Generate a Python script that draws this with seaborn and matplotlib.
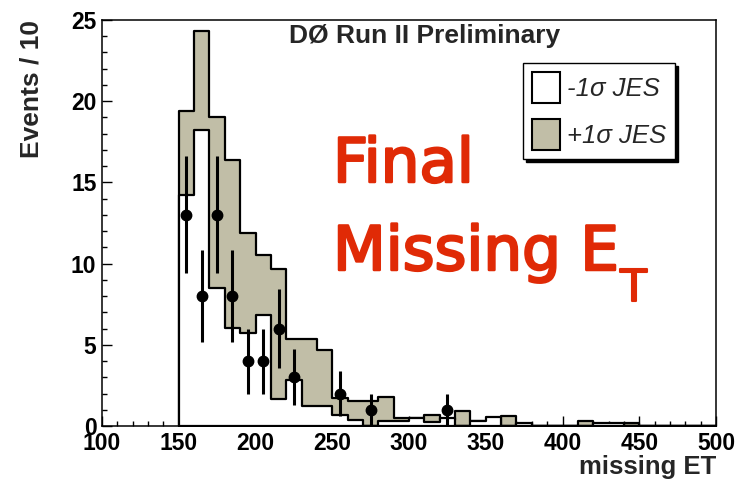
import numpy as np
import pandas as pd
import matplotlib
matplotlib.use("Agg")
import matplotlib.pyplot as plt
import matplotlib.patheffects as pe
from matplotlib.patches import Patch
from matplotlib.ticker import MultipleLocator
import seaborn as sns

# Missing ET spectrum, 10 GeV bins from 150 to 500
bin_edges = list(range(150, 510, 10))
jes_plus = [19.4, 24.3, 19.0, 16.4, 11.9, 10.5, 9.65, 5.35, 5.35, 4.7,
            1.7, 1.56, 1.56, 1.8, 0.47, 0.47, 0.68, 0.4, 0.94, 0.3,
            0.0, 0.62, 0.0, 0.0, 0.0, 0.0, 0.33, 0.0, 0.0, 0.2,
            0.0, 0.0, 0.0, 0.0, 0.0]
jes_minus = [14.2, 18.2, 8.5, 6.05, 5.7, 6.85, 1.65, 2.85, 1.25, 1.25,
             0.68, 0.4, 0.0, 0.3, 0.3, 0.47, 0.27, 0.47, 0.0, 0.3,
             0.53, 0.0, 0.16, 0.0, 0.0, 0.0, 0.0, 0.16, 0.16, 0.0,
             0.0, 0.0, 0.0, 0.0, 0.0]

# Observed events
data_x = [155, 165, 175, 185, 195, 205, 215, 225, 255, 275, 325]
data_n = [13, 8, 13, 8, 4, 4, 6, 3, 2, 1, 1]

x_ticks = [100, 150, 200, 250, 300, 350, 400, 450, 500]
y_ticks = [0, 5, 10, 15, 20, 25]

TAN = "#c1bea7"
RED = "#e02a06"

sns.set_theme(style="white")
plt.rcParams["font.family"] = ["Liberation Sans", "DejaVu Sans"]

centers = [lo + 5 for lo in bin_edges[:-1]]
hist_df = pd.DataFrame({"met": centers, "plus": jes_plus, "minus": jes_minus})

fig = plt.figure(figsize=(7.4, 4.8), dpi=100)
ax = fig.add_axes([102 / 740, 54 / 480, 614 / 740, 406 / 480])

common = dict(x="met", bins=bin_edges, element="step", fill=True,
              alpha=1, edgecolor="black", linewidth=1.6, ax=ax)
sns.histplot(data=hist_df, weights="plus", color=TAN, **common)
sns.histplot(data=hist_df, weights="minus", color="white", **common)

ax.errorbar(data_x, data_n, yerr=np.sqrt(data_n), fmt="o", color="black",
            markersize=7.5, elinewidth=2.2, capsize=0, zorder=5)

ax.set_xlim(100, 500)
ax.set_ylim(0, 25)
ax.set_xticks(x_ticks)
ax.set_yticks(y_ticks)
ax.xaxis.set_minor_locator(MultipleLocator(10))
ax.yaxis.set_minor_locator(MultipleLocator(1))
ax.tick_params(which="both", direction="in", top=False, right=False,
               bottom=True, left=True, colors="black")
ax.tick_params(which="major", length=7.5, width=1.0, labelsize=16.5, pad=4)
ax.tick_params(which="minor", length=3.8, width=1.0)
for lab in ax.get_xticklabels() + ax.get_yticklabels():
    lab.set_fontweight("bold")
for sp in ax.spines.values():
    sp.set_color("black")
    sp.set_linewidth(1.1)

ax.set_xlabel("missing ET", loc="right", fontsize=18.5, fontweight="bold",
              labelpad=0)
ax.set_ylabel("Events / 10", loc="top", fontsize=19, fontweight="bold",
              labelpad=20)

ax.text(0.526, 0.99, "DØ Run II Preliminary", transform=ax.transAxes,
        ha="center", va="top", fontsize=19, fontweight="bold")

handles = [Patch(facecolor="white", edgecolor="black", linewidth=1.5),
           Patch(facecolor=TAN, edgecolor="black", linewidth=1.5)]
leg = ax.legend(handles, ["-1σ JES", "+1σ JES"], loc="upper left",
                bbox_to_anchor=(0.686, 0.894), frameon=True, fancybox=False,
                edgecolor="black", framealpha=1, borderpad=0.35,
                labelspacing=0.6, handlelength=1.1, handleheight=1.5,
                handletextpad=0.25, borderaxespad=0,
                prop={"style": "italic", "size": 18.5},
                shadow={"color": "black", "alpha": 1})
leg.get_frame().set_linewidth(1.0)

red_kw = dict(fontsize=44, color=RED, family="DejaVu Sans",
              va="baseline",
              path_effects=[pe.withStroke(linewidth=1.8, foreground=RED)])
fig.text(333 / 740, 1 - 182 / 480, "Final", **red_kw)
t1 = fig.text(333 / 740, 1 - 270 / 480, "Missing E", **red_kw)
ax.annotate("T", xy=(1, 0), xycoords=t1, xytext=(1, -13),
            textcoords="offset points", fontsize=32, color=RED,
            family="DejaVu Sans", va="baseline", ha="left",
            path_effects=[pe.withStroke(linewidth=1.5, foreground=RED)])

fig.savefig("out.png", dpi=100, facecolor="white")
